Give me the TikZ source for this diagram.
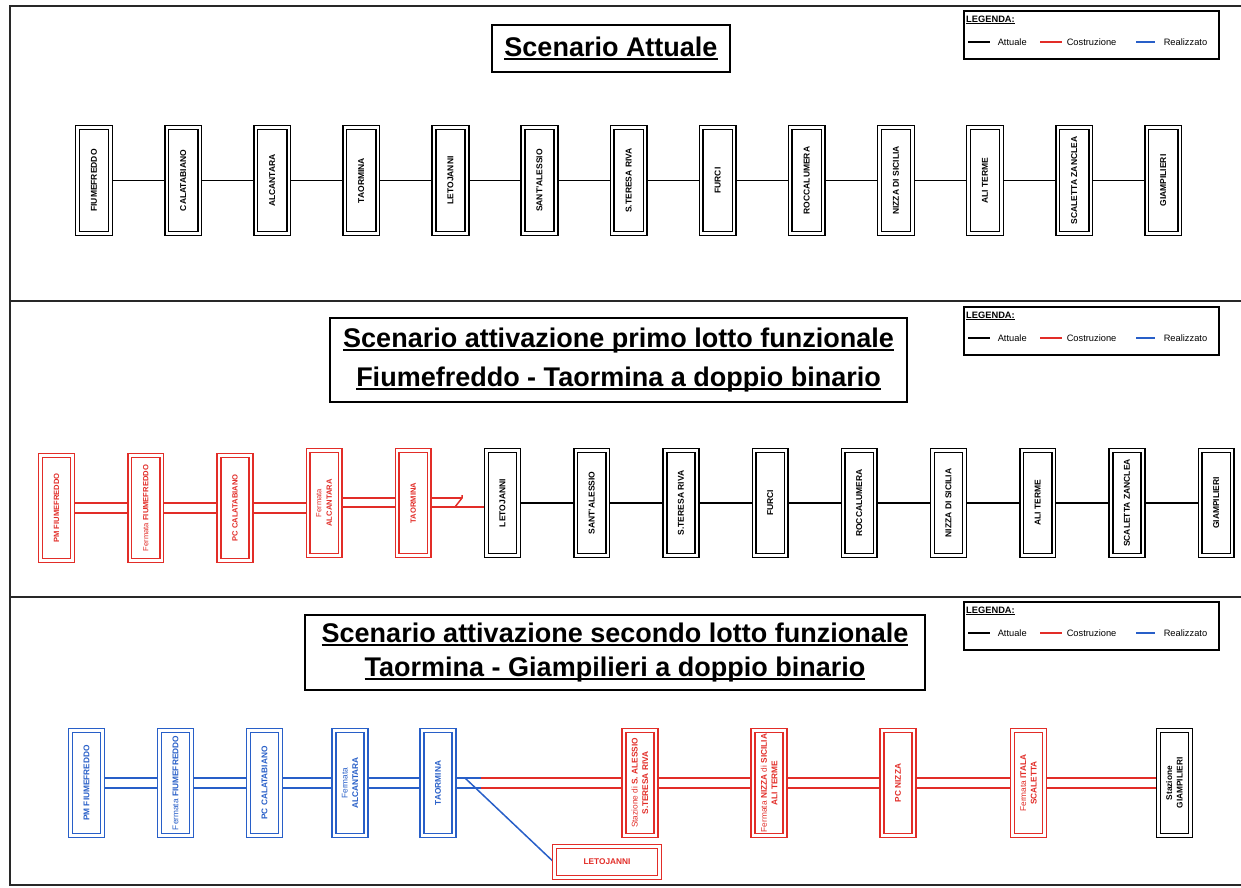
\documentclass[tikz,border=0pt]{standalone}
\usepackage{fontspec}
\setmainfont{Liberation Sans}
\usetikzlibrary{backgrounds,calc}
\definecolor{cred}{RGB}{226,45,40}
\definecolor{cblue}{RGB}{40,95,200}
\definecolor{frm}{RGB}{40,40,40}
\newsavebox\ulbox
\newcommand\myul[1]{\sbox\ulbox{#1}\rlap{\rule[-0.12em]{\wd\ulbox}{0.06em}}\usebox\ulbox}
\newcommand\ftA{\fontsize{8.5}{10}\selectfont\bfseries}
\newcommand\ftB{\fontsize{7.6}{10.5}\selectfont\bfseries}
\newcommand\ftC{\fontsize{8.3}{10.5}\selectfont\bfseries}
\newcommand\lgf{\fontsize{9.3}{11}\selectfont}
\newcommand\lgb{\fontsize{9.3}{11}\selectfont\bfseries}
\newcommand\mylegend[2]{%
  \node[lgbox, anchor=north west] (lg#2) at (963,#1) {};
  \node[anchor=west, inner sep=0pt, font=\lgb] (lgh#2) at ([xshift=3pt,yshift=-10pt]lg#2.north west) {\myul{LEGENDA:}};
  \coordinate (la#2) at ([xshift=5pt,yshift=-32pt]lg#2.north west);
  \draw[line width=1.5pt, black] (la#2) -- ++(22,0) node[right=7pt, font=\lgf, inner sep=0pt, text=black] {Attuale};
  \draw[line width=1.5pt, cred] ([xshift=72pt]la#2) -- ++(22,0) node[right=4pt, font=\lgf, inner sep=0pt, text=black] {Costruzione};
  \draw[line width=1.5pt, cblue] ([xshift=168pt]la#2) -- ++(19,0) node[right=8pt, font=\lgf, inner sep=0pt, text=black] {Realizzato};
}
\begin{document}
\begin{tikzpicture}[x=1pt,y=1pt,
  stbox/.style={double, double distance=2.2pt, line width=1.5pt, fill=white, inner sep=0pt, align=center},
  stvert/.style={stbox, rotate=90, minimum width=105pt, minimum height=32pt},
  vblack/.style={stvert, draw=black, text=black, font=\ftA},
  vred/.style={stvert, draw=cred, text=cred, font=\ftB},
  vredc/.style={stvert, draw=cred, text=cred, font=\ftC},
  vblue/.style={stvert, draw=cblue, text=cblue, font=\ftC},
  vblackc/.style={stvert, draw=black, text=black, font=\ftC},
  ttl/.style={draw=black, line width=1.6pt, align=center, inner sep=0pt},
  lgbox/.style={draw=black, line width=1.7pt, minimum width=255pt, minimum height=48pt, inner sep=0pt},
  lnblk/.style={line width=1.6pt, black},
  lnred/.style={line width=1.5pt, cred},
  lnblue/.style={line width=1.5pt, cblue},
  frame/.style={line width=2pt, frm}]
\useasboundingbox (0,0) rectangle (1241,887);

% frame
\draw[frame] (1241,881) -- (10,881) -- (10,2) -- (1241,2);
\draw[frame] (10,586) -- (1241,586);
\draw[frame] (10,290) -- (1241,290);

% titles
\node[ttl, minimum width=238pt, minimum height=47pt, font=\fontsize{27}{33}\selectfont\bfseries] (t1) at (611,838.5) {\myul{Scenario Attuale}};
\node[ttl, minimum width=577pt, minimum height=84pt, font=\fontsize{27}{39}\selectfont\bfseries] (t2) at (618.5,527) {\myul{Scenario attivazione primo lotto funzionale}\\\myul{Fiumefreddo - Taormina a doppio binario}};
\node[ttl, minimum width=620pt, minimum height=75pt, font=\fontsize{27}{34}\selectfont\bfseries] (t3) at (615,234.5) {\myul{Scenario attivazione secondo lotto funzionale}\\\myul{Taormina - Giampilieri a doppio binario}};

% legends
\mylegend{877}{A}
\mylegend{581}{B}
\mylegend{286}{C}

% ---------- panel 1
\foreach \t [count=\i from 0] in {FIUMEFREDDO,CALATABIANO,ALCANTARA,TAORMINA,LETOJANNI,SANT'ALESSIO,S.TERESA RIVA,FURCI,ROCCALUMERA,NIZZA DI SICILIA,ALI TERME,SCALETTA ZANCLEA,GIAMPILIERI}
  \node[vblack, minimum width=106pt, minimum height=33pt] (a\i) at ({94+89.1*\i},706.5) {\t};
\begin{pgfonlayer}{background}
\foreach \i [evaluate=\i as \j using int(\i+1)] in {0,...,11}
  \draw[lnblk] (a\i.center) -- (a\j.center);
\end{pgfonlayer}

% ---------- panel 2
\node[vred] (b0) at (56.5,379) {PM FIUMEFREDDO};
\node[vred] (b1) at (145.7,379) {{\mdseries Fermata} FIUMEFREDDO};
\node[vred] (b2) at (234.9,379) {PC CALATABIANO};
\node[vred] (b3) at (324.1,384) {{\mdseries Fermata}\\ALCANTARA};
\node[vred] (b4) at (413.3,384) {TAORMINA};
\foreach \t [count=\i from 5] in {LETOJANNI,SANT'ALESSIO,S.TERESA RIVA,FURCI,ROCCALUMERA,NIZZA DI SICILIA,ALI TERME,SCALETTA ZANCLEA,GIAMPILIERI}
  \node[vblack] (b\i) at ({56.5+89.2*\i},384) {\t};
\coordinate (sw0) at (455,380);
\coordinate (sw1) at (462,389);
\begin{pgfonlayer}{background}
\foreach \i/\j in {0/1,1/2,2/3} {
  \draw[lnred] ([yshift=5pt]b\i.center) -- ([yshift=5pt]b\i.center -| b\j.center);
  \draw[lnred] ([yshift=-5pt]b\i.center) -- ([yshift=-5pt]b\i.center -| b\j.center);
}
\draw[lnred] ([yshift=5pt]b3.center) -- ([yshift=5pt]b3.center -| b4.center);
\draw[lnred] ([yshift=-4pt]b3.center) -- ([yshift=-4pt]b3.center -| b4.center);
\draw[lnred] ([yshift=-4pt]b4.center) -- ([yshift=-4pt]b4.center -| b5.center);
\draw[lnred] ([yshift=5pt]b4.center) -- (sw1);
\draw[lnred] (sw0) -- (sw1) -- ++(0,3);
\foreach \i [evaluate=\i as \j using int(\i+1)] in {5,...,12}
  \draw[lnblk] (b\i.center) -- (b\j.center);
\end{pgfonlayer}

% ---------- panel 3
\node[vblue] (c0) at (86.5,104) {PM FIUMEFREDDO};
\node[vblue] (c1) at (175.5,104) {{\mdseries Fermata} FIUMEFREDDO};
\node[vblue] (c2) at (264.5,104) {PC CALATABIANO};
\node[vblue] (c3) at (350,104) {{\mdseries Fermata}\\ALCANTARA};
\node[vblue] (c4) at (438,104) {TAORMINA};
\node[vredc] (c5) at (640,104) {{\mdseries Stazione di} S. ALESSIO\\S.TERESA RIVA};
\node[vredc] (c6) at (769,104) {{\mdseries Fermata} NIZZA {\mdseries di} SICILIA\\ALI TERME};
\node[vredc] (c7) at (898,104) {PC NIZZA};
\node[vredc] (c8) at (1028.5,104) {{\mdseries Fermata} ITALA\\SCALETTA};
\node[vblackc] (c9) at (1174.5,104) {Stazione\\GIAMPILIERI};
\node[stbox, draw=cred, text=cred, font=\ftC, minimum width=105pt, minimum height=31pt] (cl) at (607,25) {LETOJANNI};
\coordinate (s1) at (481,109);
\coordinate (s2) at (481,99);
\coordinate (d0) at (465,109);
\begin{pgfonlayer}{background}
\foreach \i/\j in {0/1,1/2,2/3,3/4} {
  \draw[lnblue] ([yshift=5pt]c\i.center) -- ([yshift=5pt]c\j.center);
  \draw[lnblue] ([yshift=-5pt]c\i.center) -- ([yshift=-5pt]c\j.center);
}
\draw[lnblue] ([yshift=5pt]c4.center) -- (s1);
\draw[lnblue] ([yshift=-5pt]c4.center) -- (s2);
\draw[lnred] (s1) -- (s1 -| c5.center);
\draw[lnred] (s2) -- (s2 -| c5.center);
\foreach \i/\j in {5/6,6/7,7/8,8/9} {
  \draw[lnred] ([yshift=5pt]c\i.center) -- ([yshift=5pt]c\j.center);
  \draw[lnred] ([yshift=-5pt]c\i.center) -- ([yshift=-5pt]c\j.center);
}
\draw[lnblue] (d0) -- (cl.west);
\end{pgfonlayer}
\end{tikzpicture}
\end{document}
